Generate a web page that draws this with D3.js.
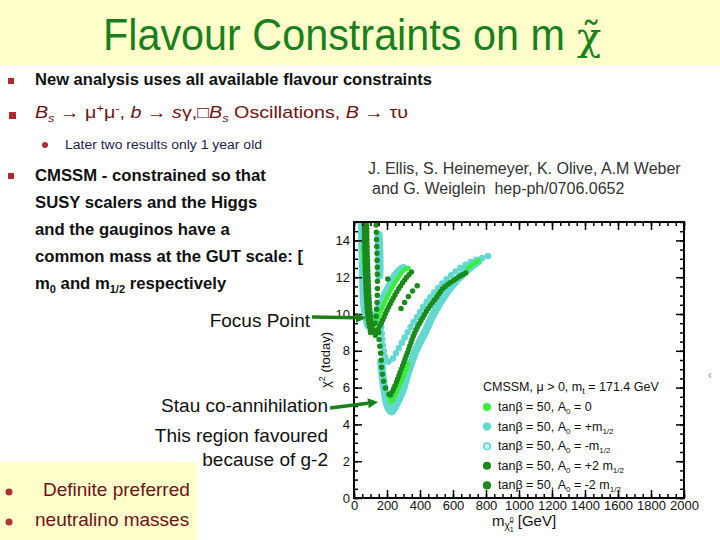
<!DOCTYPE html>
<html><head><meta charset="utf-8">
<script src="https://cdn.jsdelivr.net/npm/d3@7"></script>
<style>
body{margin:0;background:#fff}
svg{display:block;font-family:"Liberation Sans",Arial,Helvetica,sans-serif}
</style>
</head><body>
<svg id="c" width="720" height="540"></svg>
<script>
// ---------------- data ----------------
const xTicks = [0,200,400,600,800,1000,1200,1400,1600,1800,2000];
const yTicks = [0,2,4,6,8,10,12,14];
const xMinor = d3.range(0,2001,50);
const yMinor = d3.range(0,15.01,0.5);

const legendLabels = ["A0 = 0","A0 = +m1/2","A0 = -m1/2","A0 = +2 m1/2","A0 = -2 m1/2"];

// each series: list of branches, each branch: [m_chi (GeV), chi2]
const seriesA0zero = [
  [[56,13.6],[60,12.9],[66,12.2]],
  [[118,9.3],[140,9.7],[170,10.3],[200,10.9],[235,11.5],[270,12.0],[305,12.4],[330,12.5]],
  [[212,5.6],[225,5.2],[245,5.5],[270,6.0],[300,6.6],[330,7.3]],
  [[690,12.5],[720,12.7],[755,12.9]]
];
const seriesA0plusM = [
  [[48,14.8],[50,13.8],[52,12.9],[55,12.0],[58,11.1],[63,10.4],[72,9.9],[85,9.4]],
  [[150,14.3],[153,13.5],[155,12.7],[154,12.1]],
  [[105,9.4],[130,9.9],[160,10.5],[190,11.1],[220,11.6],[250,12.1],[280,12.4],[300,12.5]],
  [[165,7.4],[175,6.5],[188,5.7],[200,5.1],[215,4.8],[228,4.7],[250,5.0],[278,5.5],[300,6.0],[319,6.6],[345,7.3],[369,7.9],[400,8.5],[430,9.0],[470,9.8],[520,10.6],[580,11.4],[640,12.0],[700,12.5],[753,12.85]]
];
const seriesA0minusM = [
  [[160,9.6],[168,9.0],[175,8.3],[185,7.8],[198,7.45],[212,7.4],[228,7.5],[250,7.8],[275,8.2],[300,8.6],[325,9.0],[350,9.4],[380,9.8],[420,10.4],[470,11.0],[530,11.6],[600,12.2],[680,12.7],[760,13.0],[833,13.2]]
];
const seriesA0plus2M = [
  [[62,15.2],[64,14],[67,13],[70,12],[75,11],[82,10.1],[92,9.4],[102,9.0]],
  [[76,15.2],[78,14],[81,13],[85,12],[90,11],[97,10.1],[105,9.4],[112,9.0]],
  [[135,9.0],[165,9.5],[200,10.2],[240,10.9],[280,11.5],[320,12.0],[350,12.3]],
  [[222,5.6],[238,5.9],[258,6.3],[278,6.8],[300,7.3],[319,7.8],[340,8.3],[359,8.8],[385,9.3],[410,9.7],[450,10.3],[500,10.9],[540,11.4],[600,11.8],[650,12.1],[692,12.3]]
];
const seriesA0minus2M = [
  [[133,15.2],[137,14],[140,13],[142,12],[141,11],[137,10.2],[128,9.5],[118,9.1]],
  [[100,9.0],[115,8.8],[130,8.85],[145,8.9],[155,8.75]],
  [[150,9.0],[153,8.5],[160,8.0],[165,7.5],[168,7.0],[175,6.6],[186,6.1],[200,5.8],[215,5.6]],
  [[205,11.9],[215,12.1]],
  [[285,10.3],[305,10.6],[320,10.8],[340,11.1],[360,11.3],[380,11.5],[400,11.7]]
];

// ---------------- drawing ----------------
const svg = d3.select("#c");
const GREEN = "#1b7f1b", MAROON = "#6e1212";
const TURQ = "#62d8cf", LIME = "#3bee3b", DARK = "#1a8a1a";

svg.append("rect").attr("width",720).attr("height",540).attr("fill","#fff");
svg.append("rect").attr("width",720).attr("height",65).attr("fill","#ffffcc");
svg.append("rect").attr("x",0).attr("y",462).attr("width",197).attr("height",78).attr("fill","#ffffcc");

// title (horizontally condensed with a scale so its box matches what is drawn)
const title = svg.append("text").attr("font-size",44).attr("fill",GREEN).text("Flavour Constraints on m");
const tw = title.node().getComputedTextLength();
title.attr("transform",`translate(103,50) scale(${462/tw},1)`);
svg.append("text").attr("x",577).attr("y",50).attr("font-size",40).attr("fill",GREEN)
  .attr("font-family","'DejaVu Serif','Liberation Serif',serif").text("χ\u0303");

// bullets
function sq(x,y,s){svg.append("rect").attr("x",x).attr("y",y).attr("width",s).attr("height",s).attr("fill","#b02a2a");}
function dot(x,y,r){svg.append("circle").attr("cx",x).attr("cy",y).attr("r",r).attr("fill","#b43030");}
sq(8,78,6); sq(9,112,7); dot(45,145,3); sq(8,173,6); dot(9,492,3.5); dot(9,522,3.5);

svg.append("text").attr("x",35).attr("y",85).attr("font-size",16).attr("font-weight","bold").attr("fill","#111")
  .attr("textLength",397).attr("lengthAdjust","spacingAndGlyphs")
  .text("New analysis uses all available flavour constraints");

const t2 = svg.append("text").attr("x",35).attr("y",118).attr("font-size",17).attr("fill",MAROON)
  .attr("textLength",373).attr("lengthAdjust","spacingAndGlyphs");
t2.append("tspan").attr("font-style","italic").text("B");
t2.append("tspan").attr("font-size",11).attr("dy",4).attr("font-style","italic").text("s");
t2.append("tspan").attr("dy",-4).text(" → μ");
t2.append("tspan").attr("font-size",11).attr("dy",-6).text("+");
t2.append("tspan").attr("dy",6).text("μ");
t2.append("tspan").attr("font-size",11).attr("dy",-6).text("-");
t2.append("tspan").attr("dy",6).text(", ");
t2.append("tspan").attr("font-style","italic").text("b");
t2.append("tspan").text(" → ");
t2.append("tspan").attr("font-style","italic").text("s");
t2.append("tspan").text("γ,□");
t2.append("tspan").attr("font-style","italic").text("B");
t2.append("tspan").attr("font-size",11).attr("dy",4).attr("font-style","italic").text("s");
t2.append("tspan").attr("dy",-4).text(" Oscillations, ");
t2.append("tspan").attr("font-style","italic").text("B");
t2.append("tspan").text(" → τυ");

svg.append("text").attr("x",65).attr("y",149).attr("font-size",12.5).attr("fill","#1e1e50")
  .attr("textLength",197).attr("lengthAdjust","spacingAndGlyphs").text("Later two results only 1 year old");

const para = ["CMSSM - constrained so that","SUSY scalers and the Higgs","and the gauginos have a","common mass at the GUT scale: ["];
para.forEach((s,i)=>svg.append("text").attr("x",35).attr("y",181+i*27).attr("font-size",16.7).attr("font-weight","bold").attr("fill","#111").text(s));
const p5 = svg.append("text").attr("x",35).attr("y",289).attr("font-size",16.7).attr("font-weight","bold").attr("fill","#111");
p5.append("tspan").text("m");
p5.append("tspan").attr("font-size",11).attr("dy",4).text("0");
p5.append("tspan").attr("dy",-4).text(" and m");
p5.append("tspan").attr("font-size",11).attr("dy",4).text("1/2");
p5.append("tspan").attr("dy",-4).text(" respectively");

svg.append("text").attr("x",368).attr("y",174).attr("font-size",16).attr("fill","#333")
  .text("J. Ellis, S. Heinemeyer, K. Olive, A.M Weber");
svg.append("text").attr("x",372).attr("y",194).attr("font-size",16).attr("fill","#333")
  .attr("xml:space","preserve").text("and G. Weiglein  hep-ph/0706.0652");

// annotations
const ann = [["Focus Point",327],["Stau co-annihilation",412],["This region favoured",442],["because of g-2",466]];
ann.forEach(a=>svg.append("text").attr("x",a[0]==="Focus Point"?310:328).attr("y",a[1]).attr("font-size",19)
  .attr("text-anchor","end").attr("fill","#111").text(a[0]));
svg.append("text").attr("x",43).attr("y",496).attr("font-size",19).attr("fill",MAROON).text("Definite preferred");
svg.append("text").attr("x",35).attr("y",526).attr("font-size",19).attr("fill",MAROON).text("neutralino masses");
svg.append("text").attr("x",708).attr("y",379).attr("font-size",12).attr("fill","#999").text("‹");

// ---------------- chart ----------------
const x = d3.scaleLinear().domain([0,2000]).range([354,684]);
const y = d3.scaleLinear().domain([0,15]).range([498,222]);

svg.append("defs").append("clipPath").attr("id","clip").append("rect")
  .attr("x",354).attr("y",222).attr("width",330).attr("height",276);

const series = [
  {data:seriesA0plusM, color:TURQ, w:8, dash:null},
  {data:seriesA0minusM, color:TURQ, w:6.5, dash:"0,6"},
  {data:seriesA0zero, color:LIME, w:4.5, dash:null},
  {data:seriesA0plus2M, color:DARK, w:5.5, dash:"0,3.5"},
  {data:seriesA0minus2M, color:DARK, w:5.5, dash:"0,7"}
];
const line = d3.line().x(d=>x(d[0])).y(d=>y(d[1])).curve(d3.curveCatmullRom);
const plot = svg.append("g").attr("clip-path","url(#clip)");
series.forEach(s=>{
  plot.append("g").selectAll("path").data(s.data).join("path")
    .attr("d",line).attr("fill","none").attr("stroke",s.color).attr("stroke-width",s.w)
    .attr("stroke-linecap","round").attr("stroke-linejoin","round")
    .attr("stroke-dasharray",s.dash);
});

// axes (ticks inward on all four sides)
function styleAxis(g){g.select(".domain").remove();g.selectAll("line").attr("stroke","#000").attr("stroke-width",1.5);}
const fmt = d3.format("d");
const ax = svg.append("g");
ax.append("g").attr("transform","translate(0,498)").call(d3.axisBottom(x).tickValues(xTicks).tickSize(-8).tickPadding(3).tickFormat(fmt)).call(styleAxis);
ax.append("g").attr("transform","translate(0,498)").call(d3.axisBottom(x).tickValues(xMinor).tickSize(-4).tickFormat("")).call(styleAxis);
ax.append("g").attr("transform","translate(0,222)").call(d3.axisTop(x).tickValues(xTicks).tickSize(-8).tickFormat("")).call(styleAxis);
ax.append("g").attr("transform","translate(0,222)").call(d3.axisTop(x).tickValues(xMinor).tickSize(-4).tickFormat("")).call(styleAxis);
ax.append("g").attr("transform","translate(354,0)").call(d3.axisLeft(y).tickValues(yTicks).tickSize(-8).tickPadding(4).tickFormat(fmt)).call(styleAxis);
ax.append("g").attr("transform","translate(354,0)").call(d3.axisLeft(y).tickValues(yMinor).tickSize(-4).tickFormat("")).call(styleAxis);
ax.append("g").attr("transform","translate(684,0)").call(d3.axisRight(y).tickValues(yTicks).tickSize(-8).tickFormat("")).call(styleAxis);
ax.append("g").attr("transform","translate(684,0)").call(d3.axisRight(y).tickValues(yMinor).tickSize(-4).tickFormat("")).call(styleAxis);
ax.selectAll("text").attr("font-family","'Liberation Sans',Arial,sans-serif").attr("font-size",13).attr("fill","#111");

svg.append("rect").attr("x",354).attr("y",222).attr("width",330).attr("height",276)
  .attr("fill","none").attr("stroke","#000").attr("stroke-width",2);

// axis titles
const yl = svg.append("text").attr("transform","translate(330,360) rotate(-90)").attr("text-anchor","middle")
  .attr("font-size",13).attr("fill","#111");
yl.append("tspan").text("χ");
yl.append("tspan").attr("font-size",9).attr("dy",-5).text("2");
yl.append("tspan").attr("dy",5).text(" (today)");

const xl = svg.append("text").attr("x",492).attr("y",526).attr("font-size",15).attr("fill","#111");
xl.append("tspan").text("m");
xl.append("tspan").attr("font-size",10).attr("dy",3).text("χ\u0303");
xl.append("tspan").attr("font-size",7).attr("dx",0).attr("dy",-7).text("0");
xl.append("tspan").attr("font-size",7).attr("dx",-4).attr("dy",10).text("1");
xl.append("tspan").attr("dy",-6).text(" [GeV]");

// legend
const lg = svg.append("g").attr("font-size",12.5).attr("fill","#111");
const hd = lg.append("text").attr("x",483).attr("y",391);
hd.append("tspan").text("CMSSM, μ > 0, m");
hd.append("tspan").attr("font-size",9).attr("dy",3).text("t");
hd.append("tspan").attr("dy",-3).text(" = 171.4 GeV");
const legStyle = [
  {fill:LIME, stroke:LIME},{fill:TURQ, stroke:TURQ},{fill:"#c8f4f0", stroke:TURQ},
  {fill:DARK, stroke:DARK},{fill:DARK, stroke:DARK}];
legendLabels.forEach((lab,i)=>{
  const yy = 411 + i*19.6;
  lg.append("circle").attr("cx",487).attr("cy",yy-4).attr("r",3.3)
    .attr("fill",legStyle[i].fill).attr("stroke",legStyle[i].stroke).attr("stroke-width",1.5);
  const parts = lab.split(" = ");
  const t = lg.append("text").attr("x",498).attr("y",yy);
  t.append("tspan").text("tanβ = 50, A");
  t.append("tspan").attr("font-size",8).attr("dy",3).text("0");
  const rhs = parts[1];
  const m = rhs.match(/^(.*)m1\/2$/);
  if(m){
    t.append("tspan").attr("dy",-3).text(" = " + m[1] + "m");
    t.append("tspan").attr("font-size",8).attr("dy",3).text("1/2");
  } else {
    t.append("tspan").attr("dy",-3).text(" = " + rhs);
  }
});

// arrows
function arrow(x1,y1,x2,y2){
  const ang = Math.atan2(y2-y1,x2-x1), L=10, W=5;
  const bx = x2 - L*Math.cos(ang), by = y2 - L*Math.sin(ang);
  svg.append("line").attr("x1",x1).attr("y1",y1).attr("x2",bx).attr("y2",by)
    .attr("stroke",GREEN).attr("stroke-width",3.5);
  svg.append("path").attr("fill",GREEN).attr("d",
    `M${x2},${y2}L${bx+W*Math.sin(ang)},${by-W*Math.cos(ang)}L${bx-W*Math.sin(ang)},${by+W*Math.cos(ang)}Z`);
}
arrow(312,317,366,318);
arrow(330,408,378,402);
</script>
</body></html>
